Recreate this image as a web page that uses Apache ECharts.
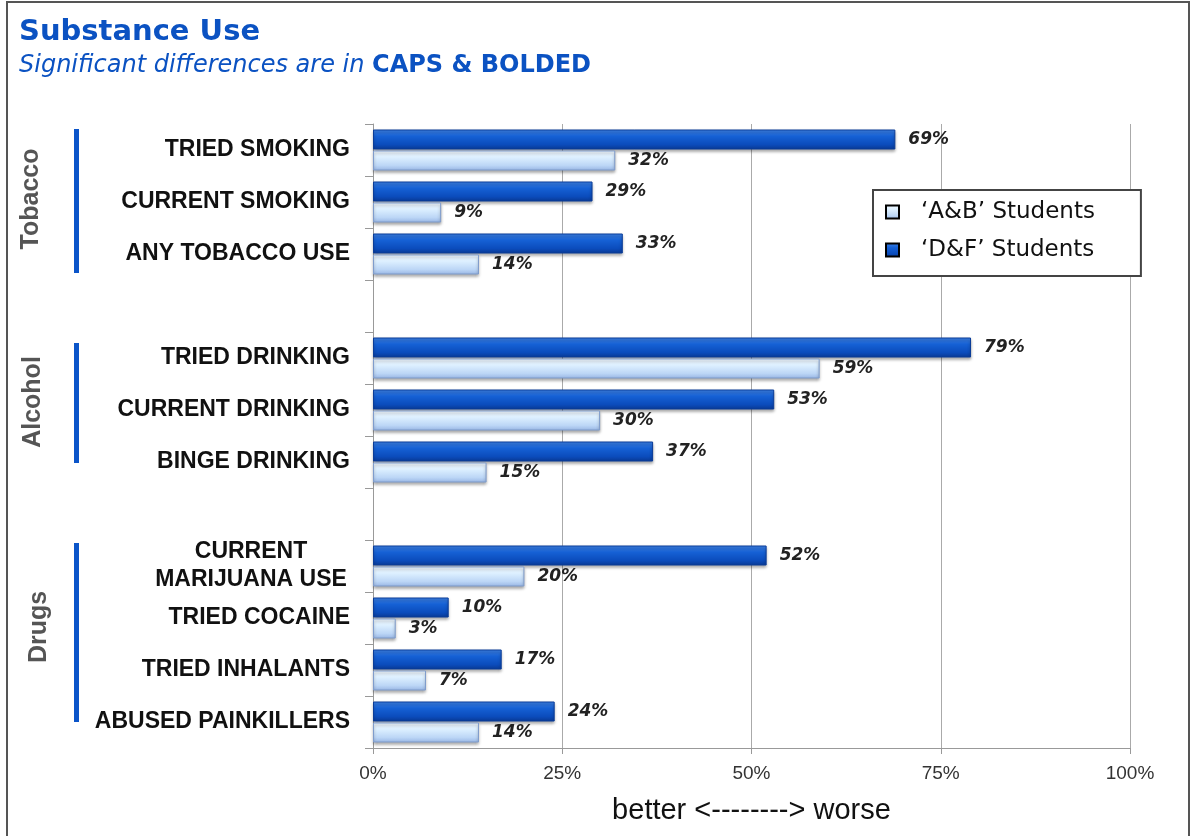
<!DOCTYPE html>
<html>
<head>
<meta charset="utf-8">
<script src="https://cdn.jsdelivr.net/npm/echarts@6/dist/echarts.min.js"></script>
<style>
html,body{margin:0;padding:0;background:#fff;}
#chart{width:1191px;height:836px;}
</style>
</head>
<body>
<div id="chart"></div>
<script>
// ---- data ----
const categories = ['TRIED SMOKING', 'CURRENT SMOKING', 'ANY TOBACCO USE', '',
  'TRIED DRINKING', 'CURRENT DRINKING', 'BINGE DRINKING', ' ',
  'CURRENT\nMARIJUANA USE', 'TRIED COCAINE', 'TRIED INHALANTS', 'ABUSED PAINKILLERS'];
const dfValues = [69, 29, 33, null, 79, 53, 37, null, 52, 10, 17, 24];
const abValues = [32, 9, 14, null, 59, 30, 15, null, 20, 3, 7, 14];
const seriesNames = ['\u2018A&B\u2019 Students', '\u2018D&F\u2019 Students'];
const xTicks = [0, 25, 50, 75, 100];
const groupNames = ['Tobacco', 'Alcohol', 'Drugs'];

const chart = echarts.init(document.getElementById('chart'), null, {renderer: 'canvas'});
const SANS = '"Liberation Sans", Arial, sans-serif';
const WIDE = '"DejaVu Sans", sans-serif';

const darkGrad = new echarts.graphic.LinearGradient(0, 0, 0, 1, [
  {offset: 0, color: '#3f84ea'}, {offset: 0.35, color: '#1560d4'},
  {offset: 0.75, color: '#0b4cbc'}, {offset: 1, color: '#093a94'}]);
const lightGrad = new echarts.graphic.LinearGradient(0, 0, 0, 1, [
  {offset: 0, color: '#f2f9ff'}, {offset: 0.35, color: '#dcefff'},
  {offset: 0.75, color: '#bcd6f6'}, {offset: 1, color: '#98b6e4'}]);

const valueLabel = {
  show: true, position: 'right', distance: 13,
  formatter: p => p.value + '%',
  fontFamily: WIDE, fontStyle: 'italic', fontWeight: 'bold', fontSize: 17,
  color: '#222'
};

const option = {
  backgroundColor: '#fff',
  animation: false,
  title: {
    text: 'Substance Use',
    left: 19, top: 18, padding: 0, itemGap: 7,
    textStyle: {fontFamily: WIDE, fontWeight: 'bold', fontSize: 29, color: '#0b52c2'},
    subtext: '{i|Significant differences are in }{b|CAPS & BOLDED}',
    subtextStyle: {
      rich: {
        i: {fontFamily: WIDE, fontStyle: 'italic', fontSize: 24, color: '#0b52c2'},
        b: {fontFamily: WIDE, fontWeight: 'bold', fontSize: 24, color: '#0b52c2'}
      }
    }
  },
  legend: {
    orient: 'vertical',
    left: 873, top: 190,
    data: seriesNames,
    icon: 'rect', itemWidth: 13, itemHeight: 13, itemGap: 12,
    padding: [9, 46, 13, 12],
    backgroundColor: '#fff', borderColor: '#444', borderWidth: 2, borderRadius: 0,
    textStyle: {fontFamily: WIDE, fontSize: 23, color: '#111', padding: [0, 0, 0, 17], lineHeight: 26},
    itemStyle: {borderColor: '#000', borderWidth: 2}
  },
  grid: {left: 373, right: 61, top: 124, bottom: 88, containLabel: false},
  xAxis: {
    type: 'value', min: xTicks[0], max: xTicks[xTicks.length - 1], interval: 25,
    axisLine: {show: true, lineStyle: {color: '#999', width: 1}},
    axisTick: {show: true, length: 6, lineStyle: {color: '#999'}},
    splitLine: {show: true, lineStyle: {color: '#aaa', width: 1}},
    axisLabel: {formatter: v => v + '%', fontFamily: SANS, fontSize: 19, color: '#333', margin: 16},
    name: 'better <--------> worse',
    nameLocation: 'middle', nameGap: 48,
    nameTextStyle: {fontFamily: SANS, fontSize: 29, color: '#111'}
  },
  yAxis: {
    type: 'category', data: categories, inverse: true,
    axisLine: {show: true, lineStyle: {color: '#999', width: 1}},
    axisTick: {show: true, length: 8, lineStyle: {color: '#999'}},
    splitLine: {show: false},
    axisLabel: {
      margin: 23, fontFamily: SANS, fontWeight: 'bold', fontSize: 23, color: '#111',
      align: 'right', lineHeight: 28,
      formatter: v => v.indexOf('\n') >= 0 ? v.split('\n').map(s => '{c|' + s + '}').join('\n') : v,
      rich: {c: {fontFamily: SANS, fontWeight: 'bold', fontSize: 23, color: '#111', width: 198, align: 'center', lineHeight: 28}}
    }
  },
  series: [
    {
      name: seriesNames[1], type: 'bar', data: dfValues,
      barWidth: 20, barGap: '5%',
      itemStyle: {color: darkGrad, borderColor: '#0a3c98', borderWidth: 1,
        shadowColor: 'rgba(0,0,0,0.35)', shadowBlur: 3, shadowOffsetY: 2},
      label: valueLabel
    },
    {
      name: seriesNames[0], type: 'bar', data: abValues,
      barWidth: 20,
      itemStyle: {color: lightGrad, borderColor: '#7f9ccc', borderWidth: 1,
        shadowColor: 'rgba(0,0,0,0.35)', shadowBlur: 3, shadowOffsetY: 2},
      label: valueLabel
    }
  ],
  graphic: [
    {type: 'rect', shape: {x: 7, y: 2, width: 1182, height: 850}, style: {fill: 'none', stroke: '#555', lineWidth: 2}, silent: true, z: -1},
    {type: 'rect', shape: {x: 74, y: 129, width: 5, height: 144}, style: {fill: '#0b55c9'}},
    {type: 'rect', shape: {x: 74, y: 343, width: 5, height: 120}, style: {fill: '#0b55c9'}},
    {type: 'rect', shape: {x: 74, y: 543, width: 5, height: 179}, style: {fill: '#0b55c9'}},
    {type: 'text', x: 31, y: 199, rotation: Math.PI / 2,
      style: {text: groupNames[0], fontFamily: SANS, fontWeight: 'bold', fontSize: 25, fill: '#555', align: 'center', verticalAlign: 'middle'}},
    {type: 'text', x: 33, y: 402, rotation: Math.PI / 2,
      style: {text: groupNames[1], fontFamily: SANS, fontWeight: 'bold', fontSize: 25, fill: '#555', align: 'center', verticalAlign: 'middle'}},
    {type: 'text', x: 39, y: 627, rotation: Math.PI / 2,
      style: {text: groupNames[2], fontFamily: SANS, fontWeight: 'bold', fontSize: 25, fill: '#555', align: 'center', verticalAlign: 'middle'}}
  ]
};
chart.setOption(option);
</script>
</body>
</html>
